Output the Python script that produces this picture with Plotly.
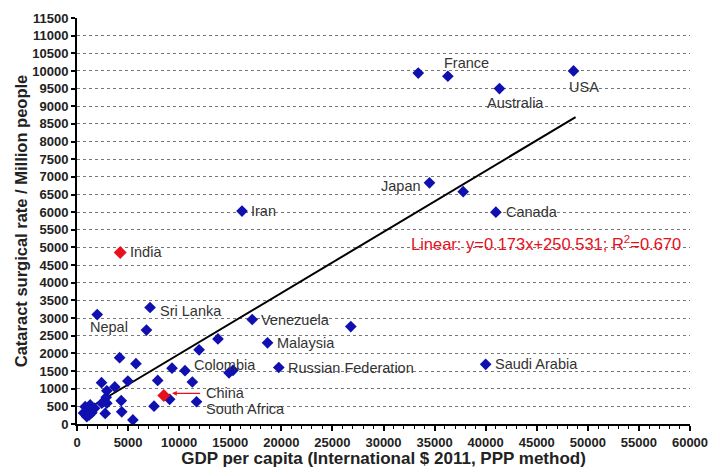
import plotly.graph_objects as go

# Labelled countries
lab_names = ["USA", "France", "Australia", "Japan", "Canada", "Iran", "Sri Lanka",
             "Nepal", "Venezuela", "Malaysia", "Russian Federation", "Saudi Arabia",
             "Colombia", "South Africa"]
lab_gdp = [48600, 36300, 41350, 34500, 41000, 16150, 7150,
           1980, 17150, 18650, 19750, 40000, 10570, 11700]
lab_csr = [10000, 9850, 9500, 6830, 6000, 6030, 3300,
           3100, 2960, 2300, 1600, 1690, 1510, 630]

# Highlighted countries (red)
red_names = ["India", "China"]
red_gdp = [4230, 8500]
red_csr = [4860, 810]

# Unlabelled countries
other_gdp = [33400, 37800, 26800, 6800, 13800, 11950, 4170, 5770, 9300, 14880, 15270,
             2400, 4980, 7900, 11290, 3700, 2920, 9070, 4330, 7540, 4380, 2760, 5470,
             2430, 2920, 2860, 1290, 800, 960, 1450, 1130, 640, 1720, 1200]
other_csr = [9940, 6580, 2760, 2660, 2410, 2100, 1880, 1710, 1580, 1450, 1520,
             1170, 1215, 1235, 1190, 1050, 940, 700, 660, 505, 345, 300, 115,
             590, 590, 756, 540, 490, 207, 320, 397, 310, 445, 255]

# Linear fit
slope = 0.173
intercept = 250.531
fit_x = [600, 48800]
fit_y = [slope * v + intercept for v in fit_x]

x_ticks = list(range(0, 60001, 5000))
y_ticks = list(range(0, 11501, 500))

BLUE = "#1010B0"
RED = "#E8101C"
FONT = "Liberation Sans"

fig = go.Figure()
fig.add_trace(go.Scatter(x=fit_x, y=fit_y, mode="lines",
                         line=dict(color="black", width=2), showlegend=False, hoverinfo="skip"))
fig.add_trace(go.Scatter(x=other_gdp + lab_gdp, y=other_csr + lab_csr, mode="markers",
                         marker=dict(symbol="diamond", size=9, color=BLUE, line=dict(width=0)),
                         showlegend=False))
fig.add_trace(go.Scatter(x=red_gdp, y=red_csr, mode="markers",
                         marker=dict(symbol="diamond", size=10, color=RED, line=dict(width=0)),
                         showlegend=False))

lab_font = dict(family=FONT, size=14.5, color="#333333")
# label offsets (in data units) relative to marker, anchors
label_pos = {
    "USA": (1060, -445, "center"),
    "France": (1800, 380, "center"),
    "Australia": (1540, -415, "center"),
    "Japan": (-600, -80, "right"),
    "Canada": (800, 0, "left"),
    "Iran": (730, 0, "left"),
    "Sri Lanka": (810, -100, "left"),
    "Nepal": (1200, -360, "center"),
    "Venezuela": (670, -15, "left"),
    "Malaysia": (710, -15, "left"),
    "Russian Federation": (690, 0, "left"),
    "Saudi Arabia": (700, 10, "left"),
    "Colombia": (720, 160, "left"),
    "South Africa": (700, -215, "left"),
}
for n, gx, gy in zip(lab_names, lab_gdp, lab_csr):
    dx, dy, anc = label_pos[n]
    fig.add_annotation(x=gx + dx, y=gy + dy, text=n, showarrow=False,
                       xanchor=anc, yanchor="middle", font=lab_font)

fig.add_annotation(x=red_gdp[0] + 750, y=red_csr[0], text=red_names[0], showarrow=False,
                   xanchor="left", yanchor="middle", font=lab_font)
fig.add_annotation(x=red_gdp[1] + 3900, y=red_csr[1] + 60, text=red_names[1], showarrow=False,
                   xanchor="left", yanchor="middle", font=lab_font)
fig.add_annotation(x=red_gdp[1] + 800, y=red_csr[1] + 60, ax=red_gdp[1] + 3700, ay=red_csr[1] + 60,
                   xref="x", yref="y", axref="x", ayref="y", text="", showarrow=True,
                   arrowhead=2, arrowsize=0.8, arrowwidth=1.2, arrowcolor=RED)

fig.add_annotation(x=32500, y=5140, text="Linear: y=0.173x+250.531; R<sup>2</sup>=0.670",
                   showarrow=False, xanchor="left", yanchor="middle",
                   font=dict(family=FONT, size=16.5, color=RED))

fig.update_layout(
    width=722, height=468,
    margin=dict(l=77, r=32, t=18, b=44),
    paper_bgcolor="white", plot_bgcolor="white",
    font=dict(family=FONT, color="#222222"),
)
fig.update_xaxes(
    range=[0, 60000], tickvals=x_ticks, ticktext=[str(v) for v in x_ticks],
    showgrid=False, zeroline=False, showline=True, linecolor="black", linewidth=2,
    ticks="outside", ticklen=5, tickwidth=1.5, tickcolor="black",
    minor=dict(dtick=1000, ticks="outside", ticklen=3, tickcolor="black", tickwidth=1, showgrid=False),
    tickfont=dict(family=FONT, size=13, color="#222222", weight="bold"),
    title=dict(text="<b>GDP per capita (International $ 2011, PPP method)</b>",
               font=dict(family=FONT, size=17, color="#222222"), standoff=0),
    automargin=False,
)
fig.update_yaxes(
    range=[0, 11500], tickvals=y_ticks, ticktext=[str(v) for v in y_ticks],
    showgrid=True, gridcolor="#777777", griddash="dot", gridwidth=1,
    zeroline=False, showline=True, linecolor="black", linewidth=2,
    ticks="outside", ticklen=4, tickwidth=1.5, tickcolor="black",
    tickfont=dict(family=FONT, size=13, color="#222222", weight="bold"),
    title=dict(text="<b>Cataract surgical rate / Million people</b>",
               font=dict(family=FONT, size=16.5, color="#222222"), standoff=0),
    automargin=False,
)

fig.write_html("out.html", config={"displayModeBar": False},
               post_script="document.body.style.margin='0';document.body.style.padding='0';")
